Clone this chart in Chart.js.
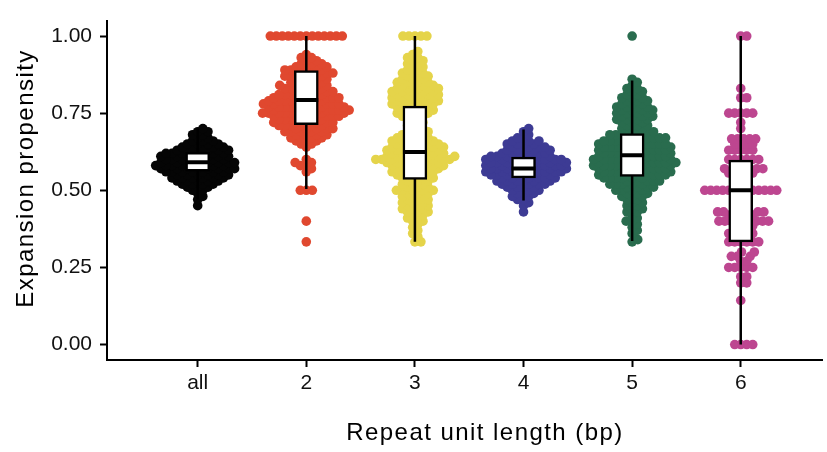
<!DOCTYPE html>
<html>
<head>
<meta charset="utf-8">
<script src="https://cdn.jsdelivr.net/npm/chart.js@4.4.1/dist/chart.umd.min.js"></script>
<style>
  html, body { margin: 0; padding: 0; background: #fff; }
  #wrap { width: 827px; height: 452px; position: relative; }
</style>
</head>
<body>
<div id="wrap"><canvas id="chart"></canvas></div>
<script>
// ---------------------------
// Data
// ---------------------------
const categories = ["all", "2", "3", "4", "5", "6"];
const xTitle = "Repeat unit length (bp)";
const yTitle = "Expansion propensity";
const yTicks = [0, 0.25, 0.5, 0.75, 1];

// [value, number of points at that value]
const allValues = [[0.70,1],[0.69,2],[0.68,2],[0.67,2],[0.66,3],[0.65,4],[0.64,5],[0.63,6],[0.62,7],[0.61,7],
  [0.60,7],[0.59,8],[0.58,8],[0.57,8],[0.56,7],[0.55,6],[0.54,6],[0.53,5],[0.52,4],[0.51,3],[0.50,2],
  [0.49,1],[0.48,1],[0.47,1],[0.45,1]];
const bp2Values = [[1.00,13],[0.94,1],[0.93,2],[0.92,2],[0.91,3],[0.90,4],[0.89,5],[0.88,5],[0.87,5],[0.86,4],
  [0.85,4],[0.84,5],[0.83,5],[0.82,5],[0.81,6],[0.80,7],[0.79,7],[0.78,8],[0.77,8],[0.76,8],[0.75,9],[0.74,7],
  [0.73,6],[0.72,6],[0.71,6],[0.70,5],[0.69,5],[0.68,4],[0.67,4],[0.66,3],[0.65,2],[0.64,1],[0.60,1],[0.59,2],
  [0.58,2],[0.57,1],[0.56,1],[0.50,3],[0.40,1],[0.333,1]];
const bp3Values = [[1.00,5],[0.95,1],[0.94,1],[0.93,2],[0.92,2],[0.91,2],[0.90,2],[0.89,2],[0.88,3],[0.87,3],
  [0.86,3],[0.85,4],[0.84,4],[0.83,5],[0.82,5],[0.81,5],[0.80,5],[0.79,5],[0.78,5],[0.77,4],[0.76,4],[0.75,4],
  [0.74,3],[0.73,2],[0.72,2],[0.71,2],[0.70,2],[0.69,3],[0.68,3],[0.67,4],[0.66,5],[0.65,5],[0.64,6],[0.63,6],
  [0.62,6],[0.61,7],[0.60,9],[0.59,6],[0.58,6],[0.57,5],[0.56,5],[0.55,4],[0.54,4],[0.53,3],[0.52,3],[0.51,3],
  [0.50,5],[0.49,3],[0.48,3],[0.47,3],[0.46,3],[0.45,3],[0.44,3],[0.43,3],[0.42,2],[0.41,2],[0.40,2],[0.39,1],
  [0.38,1],[0.37,1],[0.36,1],[0.35,1],[0.333,2]];
const bp4Values = [[0.70,1],[0.69,1],[0.68,1],[0.67,2],[0.66,3],[0.65,4],[0.64,4],[0.63,5],[0.62,5],[0.61,7],
  [0.60,8],[0.59,8],[0.58,8],[0.57,8],[0.56,8],[0.55,7],[0.54,6],[0.53,6],[0.52,5],[0.51,4],[0.50,3],[0.49,3],
  [0.48,2],[0.47,2],[0.46,1],[0.45,1],[0.43,1]];
const bp5Values = [[1.00,1],[0.86,1],[0.85,1],[0.84,1],[0.83,2],[0.82,2],[0.81,2],[0.80,3],[0.79,3],[0.78,3],
  [0.77,4],[0.76,4],[0.75,4],[0.74,4],[0.73,4],[0.72,3],[0.71,3],[0.70,3],[0.69,4],[0.68,5],[0.67,6],[0.66,6],
  [0.65,7],[0.64,7],[0.63,7],[0.62,7],[0.61,7],[0.60,8],[0.59,8],[0.58,8],[0.57,7],[0.56,7],[0.55,7],[0.54,6],
  [0.53,5],[0.52,5],[0.51,4],[0.50,4],[0.49,3],[0.48,3],[0.47,2],[0.46,2],[0.45,2],[0.44,2],[0.43,2],[0.42,1],
  [0.41,1],[0.40,2],[0.39,1],[0.38,1],[0.37,1],[0.36,1],[0.34,1],[0.333,1]];
const bp6Values = [[1.00,2],[0.83,1],[0.80,2],[0.75,5],[0.72,1],[0.70,1],[0.667,5],[0.65,4],[0.63,5],[0.60,6],
  [0.57,3],[0.556,5],[0.53,3],[0.50,13],[0.47,3],[0.45,3],[0.43,4],[0.42,5],[0.40,6],[0.385,4],[0.36,5],
  [0.333,6],[0.30,2],[0.286,3],[0.27,2],[0.25,5],[0.22,2],[0.20,2],[0.143,1],[0.00,4]];

// box plot statistics per category
const whiskerLow  = [0.47, 0.504, 0.333, 0.467, 0.336, 0.00];
const boxQ1       = [0.562, 0.7125, 0.535, 0.540, 0.545, 0.333];
const boxMedian   = [0.591, 0.793, 0.624, 0.571, 0.614, 0.500];
const boxQ3       = [0.623, 0.888, 0.773, 0.608, 0.684, 0.598];
const whiskerHigh = [0.70, 1.00, 1.00, 0.697, 0.856, 1.00];

const groups = [allValues, bp2Values, bp3Values, bp4Values, bp5Values, bp6Values];
const colors = ["#050505", "#e0482f", "#e5d44a", "#3d3b94", "#296c4e", "#bd4690"];

// ---------------------------
// Helpers
// ---------------------------
const FONT = '"Liberation Sans", Arial, Helvetica, sans-serif';
const DOT_R = 4.8;       // drawn radius
const SWARM_GAP = 6;     // centre-to-centre spacing used by the swarm
const BOX_W = 24;        // px
const BOX_HALF = 0.11;   // half box width in x units (for median bar)

function expand(pairs) {
  const out = [];
  pairs.forEach(([v, n]) => { for (let k = 0; k < n; k++) out.push(v); });
  return out.sort((a, b) => a - b);
}

// greedy beeswarm in pixel space
function swarmOffsets(pys) {
  const placed = [];
  const s2 = SWARM_GAP * SWARM_GAP;
  pys.forEach(py => {
    const near = placed.filter(p => Math.abs(p.y - py) < SWARM_GAP);
    const cands = [0];
    near.forEach(p => {
      const dx = Math.sqrt(s2 - (p.y - py) ** 2);
      cands.push(p.x + dx, p.x - dx);
    });
    cands.sort((a, b) => Math.abs(a) - Math.abs(b));
    let x = cands[cands.length - 1];
    for (const c of cands) {
      if (near.every(p => (p.x - c) ** 2 + (p.y - py) ** 2 >= s2 - 1e-6)) { x = c; break; }
    }
    placed.push({ x, y: py });
  });
  return placed.map(p => p.x);
}

// ---------------------------
// Datasets
// ---------------------------
const pointSets = groups.map((g, i) => ({
  type: "scatter",
  data: expand(g).map(v => ({ x: i + 1, y: v })),
  backgroundColor: colors[i],
  borderWidth: 0,
  pointRadius: DOT_R,
  pointHoverRadius: DOT_R,
  order: 4
}));

const whiskerSets = categories.map((c, i) => ({
  type: "line",
  data: [{ x: i + 1, y: whiskerLow[i] }, { x: i + 1, y: whiskerHigh[i] }],
  borderColor: "#000",
  borderWidth: 2.5,
  pointRadius: 0,
  order: 3
}));

const boxSet = {
  type: "bar",
  data: categories.map((c, i) => ({ x: i + 1, y: [boxQ1[i], boxQ3[i]] })),
  backgroundColor: "#fff",
  borderColor: "#000",
  borderWidth: 2.5,
  borderSkipped: false,
  barThickness: BOX_W,
  order: 2
};

const medianSets = categories.map((c, i) => ({
  type: "line",
  data: [{ x: i + 1 - BOX_HALF, y: boxMedian[i] }, { x: i + 1 + BOX_HALF, y: boxMedian[i] }],
  borderColor: "#000",
  borderWidth: 4,
  borderCapStyle: "butt",
  pointRadius: 0,
  order: 1
}));

// axis titles (letter-spaced like the original)
const axisTitles = {
  id: "axisTitles",
  afterDraw(chart) {
    const ctx = chart.ctx;
    ctx.save();
    ctx.fillStyle = "#000";
    ctx.font = "24px " + FONT;
    if ("letterSpacing" in ctx) ctx.letterSpacing = "1.45px";
    ctx.textAlign = "center";
    ctx.textBaseline = "alphabetic";
    ctx.fillText(xTitle, 485, 440);
    ctx.translate(33, 178.5);
    ctx.rotate(-Math.PI / 2);
    ctx.fillText(yTitle, 0, 0);
    ctx.restore();
  }
};

const tickGrid = { display: true, offset: false, drawOnChartArea: false, drawTicks: true,
                   tickLength: 7, tickWidth: 2, tickColor: "#000" };
const axisBorder = { display: true, color: "#000", width: 2 };

const chart = new Chart(document.getElementById("chart"), {
  type: "scatter",
  data: { datasets: [...pointSets, ...whiskerSets, boxSet, ...medianSets] },
  options: {
    responsive: true,
    maintainAspectRatio: false,
    animation: false,
    layout: { padding: { top: 8, right: 0, left: 0, bottom: 0 } },
    plugins: { legend: { display: false }, tooltip: { enabled: false } },
    scales: {
      x: {
        type: "linear",
        offset: false,
        min: 0.165,
        max: 6.75,
        grid: tickGrid,
        border: axisBorder,
        afterBuildTicks: s => { s.ticks = categories.map((c, i) => ({ value: i + 1 })); },
        afterFit: s => { s.height = 92; },
        ticks: {
          color: "#111",
          font: { size: 21, family: FONT },
          padding: 4,
          autoSkip: false,
          maxRotation: 0,
          callback: v => categories[v - 1]
        }
      },
      y: {
        type: "linear",
        offset: false,
        min: -0.05,
        max: 1.05,
        grid: tickGrid,
        border: axisBorder,
        afterBuildTicks: s => { s.ticks = yTicks.map(v => ({ value: v })); },
        afterFit: s => { s.width = 107; },
        ticks: {
          color: "#111",
          font: { size: 21, family: FONT },
          padding: 8,
          callback: v => Number(v).toFixed(2)
        }
      }
    }
  },
  plugins: [axisTitles]
});

// lay the points out as a beeswarm using the chart's own scales
(function layoutSwarm() {
  const xs = chart.scales.x, ys = chart.scales.y;
  pointSets.forEach((ds, i) => {
    const cx = xs.getPixelForValue(i + 1);
    const vals = ds.data.map(p => p.y);
    const offs = swarmOffsets(vals.map(v => ys.getPixelForValue(v)));
    ds.data = vals.map((v, k) => ({ x: xs.getValueForPixel(cx + offs[k]), y: v }));
  });
  chart.update("none");
})();
</script>
</body>
</html>
